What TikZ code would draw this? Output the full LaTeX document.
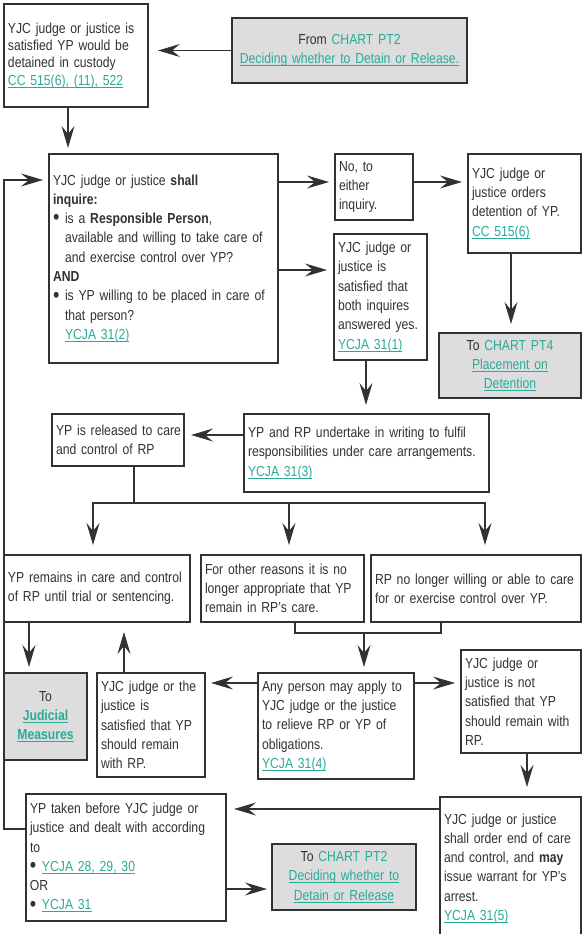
\documentclass[tikz,border=0pt]{standalone}
\usepackage{fontspec}
\setmainfont[FakeStretch=0.84]{Liberation Sans}
\usepackage{xcolor}
\usepackage{graphicx}
\usetikzlibrary{arrows.meta}
\definecolor{linkteal}{RGB}{40,172,152}
\definecolor{inkgrey}{RGB}{50,50,50}
\definecolor{chartgrey}{RGB}{221,221,221}
\newcommand{\chartlink}[1]{\textcolor{linkteal}{\setbox0\hbox{#1}\rlap{\rule[-2.2pt]{\wd0}{0.7pt}}\box0}}
\newcommand{\dotitem}{\makebox[12pt][l]{\raisebox{-1.2pt}{\scalebox{1.5}{\textbullet}}}}
\newcommand{\dotindent}{\hspace*{12pt}}

\begin{document}
\begin{tikzpicture}[x=1pt, y=-1pt,
  box/.style={draw=inkgrey, line width=1.1pt, fill=white, anchor=north west, inner xsep=4pt, inner ysep=0pt, outer sep=0pt, align=left, text=inkgrey, font=\fontsize{14.5}{19.3}\selectfont},
  chart/.style={box, fill=chartgrey, align=center},
  wire/.style={draw=inkgrey, line width=1.1pt},
  arr/.style={wire, -{Stealth[length=22pt, width=13pt, inset=8pt]}}]
  \useasboundingbox (0,0) rectangle (584,934);

  \node[box, text width=136pt, minimum height=103pt, font=\fontsize{14.5}{17.3}\selectfont] (sat) at (4,4) {YJC judge or justice is\\ satisfied YP would be\\ detained in custody\\ \chartlink{CC 515(6), (11), 522}}; %
  \node[chart, text width=227pt, minimum height=65pt] (from) at (232,18) {From \textcolor{linkteal}{CHART PT2}\\ \chartlink{Deciding whether to Detain or Release.}}; %
  \node[box, text width=221pt, minimum height=209pt] (inq) at (49,154) {YJC judge or justice \textbf{shall}\\ \textbf{inquire:}\\ \dotitem is a \textbf{Responsible Person},\\ \dotindent\mbox{available and willing to take care of}\\ \dotindent and exercise control over YP?\\ \textbf{AND}\\ \dotitem\mbox{is YP willing to be placed in care of}\\ \dotindent that person?\\ \dotindent\chartlink{YCJA 31(2)}}; %
  \node[box, text width=70pt, minimum height=66pt] (no) at (335,154) {No, to\\ either\\ inquiry.}; %
  \node[box, text width=85pt, minimum height=126pt] (yes) at (334,234) {YJC judge or\\ justice is\\ satisfied that\\ both inquires\\ \mbox{answered yes.}\\ \chartlink{YCJA 31(1)}}; %
  \node[box, text width=105pt, minimum height=99pt] (detain) at (468,154) {YJC judge or\\ justice orders\\ \mbox{detention of YP.}\\ \chartlink{CC 515(6)}}; %
  \node[chart, text width=134pt, minimum height=65pt] (pt4) at (439,333) {To \textcolor{linkteal}{CHART PT4}\\ \chartlink{Placement on}\\ \chartlink{Detention}}; %
  \node[box, text width=237pt, minimum height=78pt] (undertake) at (244,414) {\mbox{YP and RP undertake in writing to fulfil}\\ \mbox{responsibilities under care arrangements.}\\ \chartlink{YCJA 31(3)}}; %
  \node[box, text width=124pt, minimum height=52pt] (released) at (52,414) {\mbox{YP is released to care}\\ and control of RP}; %
  \node[box, text width=178pt, minimum height=67pt] (remains) at (4,555) {\mbox{YP remains in care and control}\\ \mbox{of RP until trial or sentencing.}}; %
  \node[box, text width=155pt, minimum height=67pt] (other) at (201,555) {For other reasons it is no\\ \mbox{longer appropriate that YP}\\ remain in RP's care.}; %
  \node[box, text width=202pt, minimum height=67pt] (unwilling) at (371,555) {\mbox{RP no longer willing or able to care}\\ \mbox{for or exercise control over YP.}}; %
  \node[chart, text width=75pt, minimum height=87pt] (judicial) at (4,673) {To\\ \chartlink{\textbf{Judicial}}\\ \chartlink{\textbf{Measures}}}; %
  \node[box, text width=100pt, minimum height=104pt] (stay) at (97,673) {\mbox{YJC judge or the}\\ justice is\\ \mbox{satisfied that YP}\\ should remain\\ with RP.}; %
  \node[box, text width=148pt, minimum height=106pt] (apply) at (258,673) {\mbox{Any person may apply to}\\ \mbox{YJC judge or the justice}\\ to relieve RP or YP of\\ obligations.\\ \chartlink{YCJA 31(4)}}; %
  \node[box, text width=112pt, minimum height=103pt] (notstay) at (461,650) {YJC judge or\\ justice is not\\ \mbox{satisfied that YP}\\ \mbox{should remain with}\\ RP.}; %
  \node[box, text width=133pt, minimum height=143pt] (endcare) at (440,797) {YJC judge or justice\\ \mbox{shall order end of care}\\ \mbox{and control, and \textbf{may}}\\ \mbox{issue warrant for YP's}\\ arrest.\\ \chartlink{YCJA 31(5)}}; %
  \node[box, text width=192pt, minimum height=127pt] (before) at (26,794) {\mbox{YP taken before YJC judge or}\\ \mbox{justice and dealt with according}\\ to\\ \dotitem\chartlink{YCJA 28, 29, 30}\\ OR\\ \dotitem\chartlink{YCJA 31}}; %
  \node[chart, text width=136pt, minimum height=66pt] (pt2) at (272,844) {To \textcolor{linkteal}{CHART PT2}\\ \chartlink{Deciding whether to}\\ \chartlink{Detain or Release}}; %

  \coordinate (split) at (134,503);
  \coordinate (merge) at (364,633);
  \coordinate (back) at (4,180);

  \draw[arr, shorten >=10pt] (from.west) -- (sat.east |- from.west);
  \draw[arr, shorten >=6pt] (sat.south -| 68,0) -- (inq.north -| 68,0);
  \draw[arr, shorten >=6pt] (inq.east |- 0,182) -- (no.west |- 0,182);
  \draw[arr, shorten >=6pt] (no.east |- 0,182) -- (detain.west |- 0,182);
  \draw[arr, shorten >=7pt] (inq.east |- 0,270) -- (yes.west |- 0,270);
  \draw[arr, shorten >=9pt] (detain.south -| 511,0) -- (pt4.north -| 511,0);
  \draw[arr, shorten >=9pt] (yes.south -| 366,0) -- (undertake.north -| 366,0);
  \draw[arr, shorten >=7pt] (undertake.west |- 0,435) -- (released.east |- 0,435);
  \draw[wire] (released.south -| split) -- (split);
  \draw[arr, shorten >=10pt] (split) -| (remains.north -| 93,0);
  \draw[arr, shorten >=10pt] (split) -| (other.north -| 289,0);
  \draw[arr, shorten >=10pt] (split) -| (unwilling.north -| 485,0);
  \draw[wire] (other.south -| 295,0) |- (merge) -| (unwilling.south -| 441,0);
  \draw[arr, shorten >=6pt] (merge) -- (apply.north -| merge);
  \draw[arr, shorten >=6pt] (apply.west |- 0,683) -- (stay.east |- 0,683);
  \draw[arr, shorten >=6pt] (apply.east |- 0,683) -- (notstay.west |- 0,683);
  \draw[arr, shorten >=10pt] (stay.north -| 124,0) -- (remains.south -| 124,0);
  \draw[arr, shorten >=6pt] (remains.south -| 29,0) -- (judicial.north -| 29,0);
  \draw[arr, shorten >=10pt] (notstay.south -| 527,0) -- (endcare.north -| 527,0);
  \draw[arr, shorten >=8pt] (endcare.west |- 0,809) -- (before.east |- 0,809);
  \draw[arr, shorten >=5pt] (before.east |- 0,889) -- (pt2.west |- 0,889);
  \draw[arr, shorten >=6pt] (before.west |- 0,829) -| (back) -- (inq.west |- back);
\end{tikzpicture}
\end{document}
